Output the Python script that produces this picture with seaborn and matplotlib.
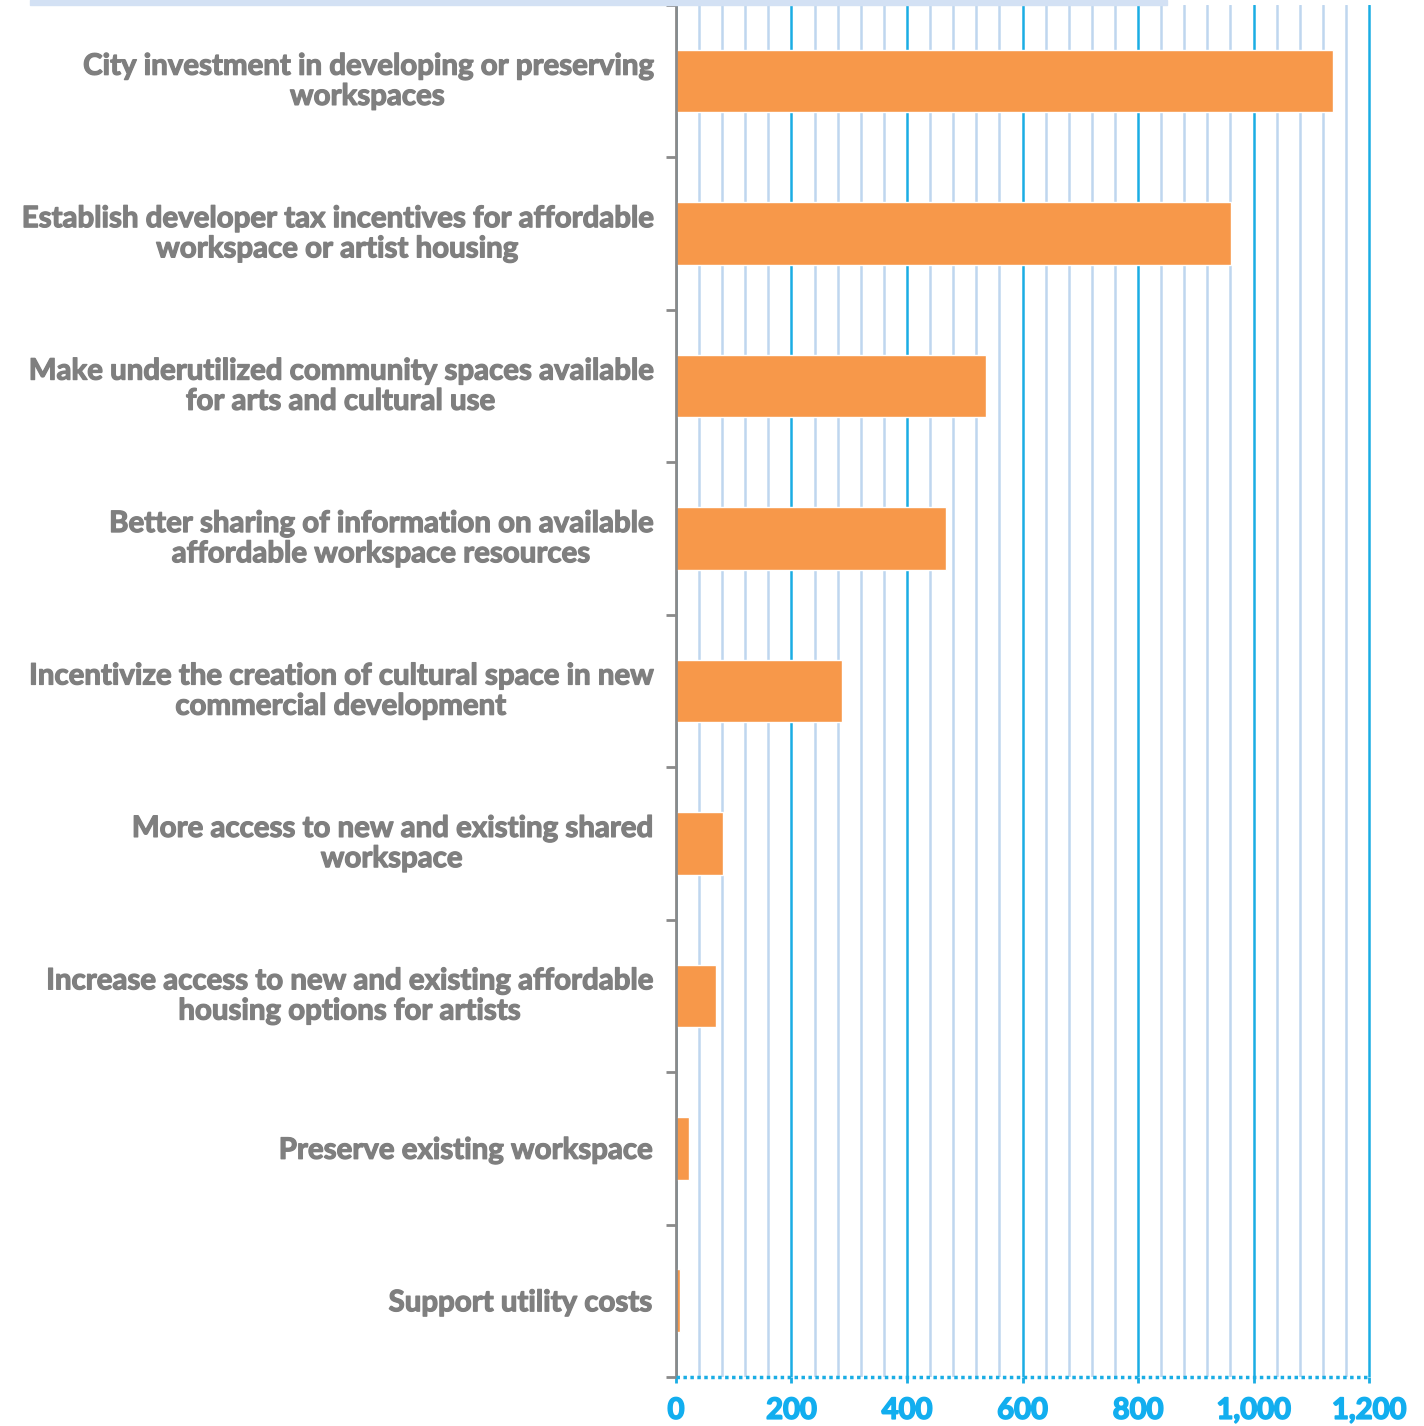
import matplotlib
matplotlib.use("Agg")
import matplotlib.pyplot as plt
import matplotlib.transforms as mtransforms
import matplotlib.patheffects as pe
import seaborn as sns
import pandas as pd
import numpy as np
from matplotlib.ticker import MultipleLocator, FuncFormatter

# data
categories = [
    "City investment in developing or preserving\nworkspaces",
    "Establish developer tax incentives for affordable\nworkspace or artist housing",
    "Make underutilized community spaces available\nfor arts and cultural use",
    "Better sharing of information on available\naffordable workspace resources",
    "Incentivize the creation of cultural space in new\ncommercial development",
    "More access to new and existing shared\nworkspace",
    "Increase access to new and existing affordable\nhousing options for artists",
    "Preserve existing workspace",
    "Support utility costs",
]
counts = [1138, 961, 537, 467, 287, 81, 69, 22, 7]
x_ticks = [0, 200, 400, 600, 800, 1000, 1200]

df = pd.DataFrame({"option": categories, "count": counts})

sns.set_style("white")
plt.rcParams["font.family"] = ["Lato", "DejaVu Sans"]

fig = plt.figure(figsize=(14.24, 14.26), dpi=100)
ax = fig.add_axes([0.4747, 0.0344, 0.4892, 0.9621])

sns.barplot(data=df, x="count", y="option", orient="h", color="#F7984A",
            saturation=1, width=0.41, ax=ax)

ax.set_xlim(0, 1206)
ax.set_ylim(len(categories) - 0.5, -0.5)

# grid
ax.xaxis.set_major_locator(MultipleLocator(200))
ax.xaxis.set_minor_locator(MultipleLocator(40))
ax.grid(which="minor", axis="x", color="#BFD6EF", linewidth=1.8, zorder=0)
ax.grid(which="major", axis="x", color="#1AADE4", linewidth=1.8, zorder=0)
ax.set_axisbelow(True)

# y ticks at band boundaries
ax.set_yticks(np.arange(len(categories) + 1) - 0.5, minor=True)
ax.tick_params(axis="y", which="minor", length=7, width=2, color="#8A8A8A", left=True)
ax.tick_params(axis="y", which="major", length=0, pad=18)
shift = mtransforms.ScaledTranslation(0, 4 / 100, fig.dpi_scale_trans)
for t in ax.get_yticklabels():
    t.set_multialignment("center")
    t.set_fontsize(21.2)
    t.set_fontweight("bold")
    t.set_color("#7F7F7F")
    t.set_linespacing(1.2)
    t.set_path_effects([pe.withStroke(linewidth=0.9, foreground="#7F7F7F")])
    if "\n" in t.get_text():
        t.set_transform(t.get_transform() + shift)

ax.set_xticks(x_ticks)
ax.xaxis.set_major_formatter(FuncFormatter(lambda v, p: f"{int(v):,}"))
ax.tick_params(axis="x", which="major", length=4, width=2, color="#1AADE4",
               bottom=True, labelsize=21, labelcolor="#12AEEF", pad=11)
ax.tick_params(axis="x", which="minor", length=0)
for t in ax.get_xticklabels():
    t.set_fontweight("bold")
    t.set_path_effects([pe.withStroke(linewidth=1.2, foreground="#12AEEF")])

ax.set_xlabel("")
ax.set_ylabel("")

for s in ["top", "right", "bottom"]:
    ax.spines[s].set_visible(False)
ax.spines["left"].set_color("#8A8A8A")
ax.spines["left"].set_linewidth(2)

# dotted baseline
ax.axhline(len(categories) - 0.5, xmin=0, xmax=1200 / 1206, color="#1AADE4",
           linewidth=2.5, linestyle=(0, (1, 1)), clip_on=False, zorder=5)

# light blue strip at the top
fig.patches.append(plt.Rectangle((30 / 1424, 1 - 5 / 1426), 1137 / 1424, 5 / 1426,
                                 transform=fig.transFigure, color="#D3E1F4", zorder=0))

fig.savefig("out.png", dpi=100)
